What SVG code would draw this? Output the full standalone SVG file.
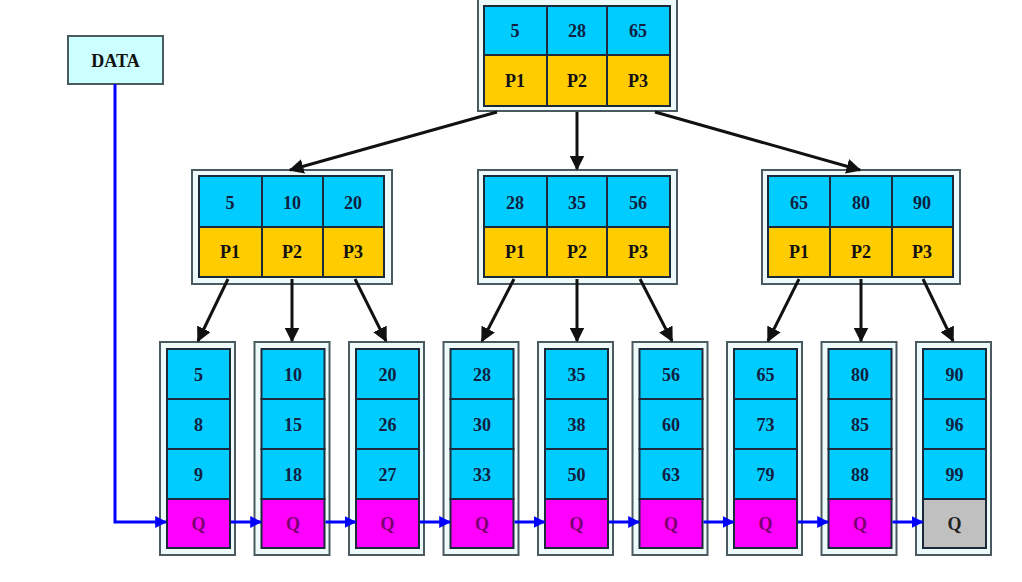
<svg xmlns="http://www.w3.org/2000/svg" width="1022" height="582" viewBox="0 0 1022 582">
<style>
.frame{fill:#eefafa;stroke:#4a5a60;stroke-width:2}
.k{fill:#00ccff;stroke:#1a2a3a;stroke-width:2}
.p{fill:#ffcc00;stroke:#1a2a3a;stroke-width:2}
.q{fill:#ff00ff;stroke:#1a2a3a;stroke-width:2}
.g{fill:#c0c0c0;stroke:#1a2a3a;stroke-width:2}
text{font-family:"Liberation Serif","Times New Roman",serif;font-weight:bold;font-size:18px;text-anchor:middle;dominant-baseline:central}
.tk{fill:#102040}
.tp{fill:#111}
.tq{fill:#7a0070}
.tg{fill:#222}
.blk{stroke:#111;stroke-width:3;fill:none;marker-end:url(#ab)}
.blu{stroke:#0000ff;stroke-width:3;fill:none;marker-end:url(#au)}
</style>
<defs>
<marker id="ab" viewBox="0 0 10 10" refX="9" refY="5" markerWidth="5" markerHeight="5" orient="auto" markerUnits="strokeWidth"><path d="M0,0L10,5L0,10z" fill="#111"/></marker>
<marker id="au" viewBox="0 0 10 10" refX="9" refY="5" markerWidth="4" markerHeight="4" orient="auto" markerUnits="strokeWidth"><path d="M0,0L10,5L0,10z" fill="#0000ff"/></marker>
</defs>
<rect width="1022" height="582" fill="#ffffff"/>

<g id="data">
<rect x="68" y="36" width="95" height="48" fill="#ccffff" stroke="#4a5a60" stroke-width="2"/>
<text x="115.5" y="61" class="tp" font-size="16">DATA</text>
</g>

<g id="root">
<rect class="frame" x="478" y="-2" width="199" height="113"/>
<rect class="k" x="484" y="6" width="63" height="49"/><rect class="k" x="547" y="6" width="60" height="49"/><rect class="k" x="607" y="6" width="63" height="49"/>
<rect class="p" x="484" y="55" width="63" height="51"/><rect class="p" x="547" y="55" width="60" height="51"/><rect class="p" x="607" y="55" width="63" height="51"/>
<text x="515" y="31" class="tk">5</text><text x="577" y="31" class="tk">28</text><text x="638" y="31" class="tk">65</text>
<text x="515" y="81" class="tp">P1</text><text x="577" y="81" class="tp">P2</text><text x="638" y="81" class="tp">P3</text>
</g>

<g id="n1">
<rect class="frame" x="192" y="170" width="200" height="114"/>
<rect class="k" x="199" y="176" width="63" height="51"/><rect class="k" x="262" y="176" width="61" height="51"/><rect class="k" x="323" y="176" width="61" height="51"/>
<rect class="p" x="199" y="227" width="63" height="50"/><rect class="p" x="262" y="227" width="61" height="50"/><rect class="p" x="323" y="227" width="61" height="50"/>
<text x="230" y="203" class="tk">5</text><text x="292" y="203" class="tk">10</text><text x="353" y="203" class="tk">20</text>
<text x="230" y="252" class="tp">P1</text><text x="292" y="252" class="tp">P2</text><text x="353" y="252" class="tp">P3</text>
</g>

<g id="n2">
<rect class="frame" x="478" y="170" width="199" height="114"/>
<rect class="k" x="484" y="176" width="63" height="51"/><rect class="k" x="547" y="176" width="60" height="51"/><rect class="k" x="607" y="176" width="63" height="51"/>
<rect class="p" x="484" y="227" width="63" height="50"/><rect class="p" x="547" y="227" width="60" height="50"/><rect class="p" x="607" y="227" width="63" height="50"/>
<text x="515" y="203" class="tk">28</text><text x="577" y="203" class="tk">35</text><text x="638" y="203" class="tk">56</text>
<text x="515" y="252" class="tp">P1</text><text x="577" y="252" class="tp">P2</text><text x="638" y="252" class="tp">P3</text>
</g>

<g id="n3">
<rect class="frame" x="762" y="170" width="198" height="114"/>
<rect class="k" x="768" y="176" width="62" height="51"/><rect class="k" x="830" y="176" width="62" height="51"/><rect class="k" x="892" y="176" width="61" height="51"/>
<rect class="p" x="768" y="227" width="62" height="50"/><rect class="p" x="830" y="227" width="62" height="50"/><rect class="p" x="892" y="227" width="61" height="50"/>
<text x="799" y="203" class="tk">65</text><text x="861" y="203" class="tk">80</text><text x="922" y="203" class="tk">90</text>
<text x="799" y="252" class="tp">P1</text><text x="861" y="252" class="tp">P2</text><text x="922" y="252" class="tp">P3</text>
</g>

<g id="leaf1" transform="translate(0,0)">
<rect class="frame" x="160" y="342" width="75" height="213"/>
<rect class="k" x="167" y="349" width="63" height="50"/><rect class="k" x="167" y="399" width="63" height="50"/><rect class="k" x="167" y="449" width="63" height="50"/><rect class="q" x="167" y="499" width="63" height="49"/>
<text x="198.5" y="375" class="tk">5</text><text x="198.5" y="425" class="tk">8</text><text x="198.5" y="475" class="tk">9</text><text x="198.5" y="524" class="tq">Q</text>
</g>
<g id="leaf2" transform="translate(94.5,0)">
<rect class="frame" x="160" y="342" width="75" height="213"/>
<rect class="k" x="167" y="349" width="63" height="50"/><rect class="k" x="167" y="399" width="63" height="50"/><rect class="k" x="167" y="449" width="63" height="50"/><rect class="q" x="167" y="499" width="63" height="49"/>
<text x="198.5" y="375" class="tk">10</text><text x="198.5" y="425" class="tk">15</text><text x="198.5" y="475" class="tk">18</text><text x="198.5" y="524" class="tq">Q</text>
</g>
<g id="leaf3" transform="translate(189,0)">
<rect class="frame" x="160" y="342" width="75" height="213"/>
<rect class="k" x="167" y="349" width="63" height="50"/><rect class="k" x="167" y="399" width="63" height="50"/><rect class="k" x="167" y="449" width="63" height="50"/><rect class="q" x="167" y="499" width="63" height="49"/>
<text x="198.5" y="375" class="tk">20</text><text x="198.5" y="425" class="tk">26</text><text x="198.5" y="475" class="tk">27</text><text x="198.5" y="524" class="tq">Q</text>
</g>
<g id="leaf4" transform="translate(283.5,0)">
<rect class="frame" x="160" y="342" width="75" height="213"/>
<rect class="k" x="167" y="349" width="63" height="50"/><rect class="k" x="167" y="399" width="63" height="50"/><rect class="k" x="167" y="449" width="63" height="50"/><rect class="q" x="167" y="499" width="63" height="49"/>
<text x="198.5" y="375" class="tk">28</text><text x="198.5" y="425" class="tk">30</text><text x="198.5" y="475" class="tk">33</text><text x="198.5" y="524" class="tq">Q</text>
</g>
<g id="leaf5" transform="translate(378,0)">
<rect class="frame" x="160" y="342" width="75" height="213"/>
<rect class="k" x="167" y="349" width="63" height="50"/><rect class="k" x="167" y="399" width="63" height="50"/><rect class="k" x="167" y="449" width="63" height="50"/><rect class="q" x="167" y="499" width="63" height="49"/>
<text x="198.5" y="375" class="tk">35</text><text x="198.5" y="425" class="tk">38</text><text x="198.5" y="475" class="tk">50</text><text x="198.5" y="524" class="tq">Q</text>
</g>
<g id="leaf6" transform="translate(472.5,0)">
<rect class="frame" x="160" y="342" width="75" height="213"/>
<rect class="k" x="167" y="349" width="63" height="50"/><rect class="k" x="167" y="399" width="63" height="50"/><rect class="k" x="167" y="449" width="63" height="50"/><rect class="q" x="167" y="499" width="63" height="49"/>
<text x="198.5" y="375" class="tk">56</text><text x="198.5" y="425" class="tk">60</text><text x="198.5" y="475" class="tk">63</text><text x="198.5" y="524" class="tq">Q</text>
</g>
<g id="leaf7" transform="translate(567,0)">
<rect class="frame" x="160" y="342" width="75" height="213"/>
<rect class="k" x="167" y="349" width="63" height="50"/><rect class="k" x="167" y="399" width="63" height="50"/><rect class="k" x="167" y="449" width="63" height="50"/><rect class="q" x="167" y="499" width="63" height="49"/>
<text x="198.5" y="375" class="tk">65</text><text x="198.5" y="425" class="tk">73</text><text x="198.5" y="475" class="tk">79</text><text x="198.5" y="524" class="tq">Q</text>
</g>
<g id="leaf8" transform="translate(661.5,0)">
<rect class="frame" x="160" y="342" width="75" height="213"/>
<rect class="k" x="167" y="349" width="63" height="50"/><rect class="k" x="167" y="399" width="63" height="50"/><rect class="k" x="167" y="449" width="63" height="50"/><rect class="q" x="167" y="499" width="63" height="49"/>
<text x="198.5" y="375" class="tk">80</text><text x="198.5" y="425" class="tk">85</text><text x="198.5" y="475" class="tk">88</text><text x="198.5" y="524" class="tq">Q</text>
</g>
<g id="leaf9" transform="translate(756,0)">
<rect class="frame" x="160" y="342" width="75" height="213"/>
<rect class="k" x="167" y="349" width="63" height="50"/><rect class="k" x="167" y="399" width="63" height="50"/><rect class="k" x="167" y="449" width="63" height="50"/><rect class="g" x="167" y="499" width="63" height="49"/>
<text x="198.5" y="375" class="tk">90</text><text x="198.5" y="425" class="tk">96</text><text x="198.5" y="475" class="tk">99</text><text x="198.5" y="524" class="tg">Q</text>
</g>

<g id="connectors">
<path class="blk" d="M497,112L290,170"/>
<path class="blk" d="M577,112L577,169"/>
<path class="blk" d="M655,112L860,170"/>
<path class="blk" d="M228,279L198,341"/>
<path class="blk" d="M292,279L292,341"/>
<path class="blk" d="M355,279L386,341"/>
<path class="blk" d="M514,279L482,341"/>
<path class="blk" d="M577,279L577,341"/>
<path class="blk" d="M640,279L672,341"/>
<path class="blk" d="M799,279L768,341"/>
<path class="blk" d="M861,279L861,341"/>
<path class="blk" d="M923,279L953,341"/>
<path class="blu" d="M115,84L115,522L166,522"/>
<path class="blu" d="M231,522L261,522"/>
<path class="blu" d="M325.5,522L355.5,522"/>
<path class="blu" d="M420,522L450,522"/>
<path class="blu" d="M514.5,522L544.5,522"/>
<path class="blu" d="M609,522L639,522"/>
<path class="blu" d="M703.5,522L733.5,522"/>
<path class="blu" d="M798,522L828,522"/>
<path class="blu" d="M892.5,522L922.5,522"/>
</g>
</svg>
